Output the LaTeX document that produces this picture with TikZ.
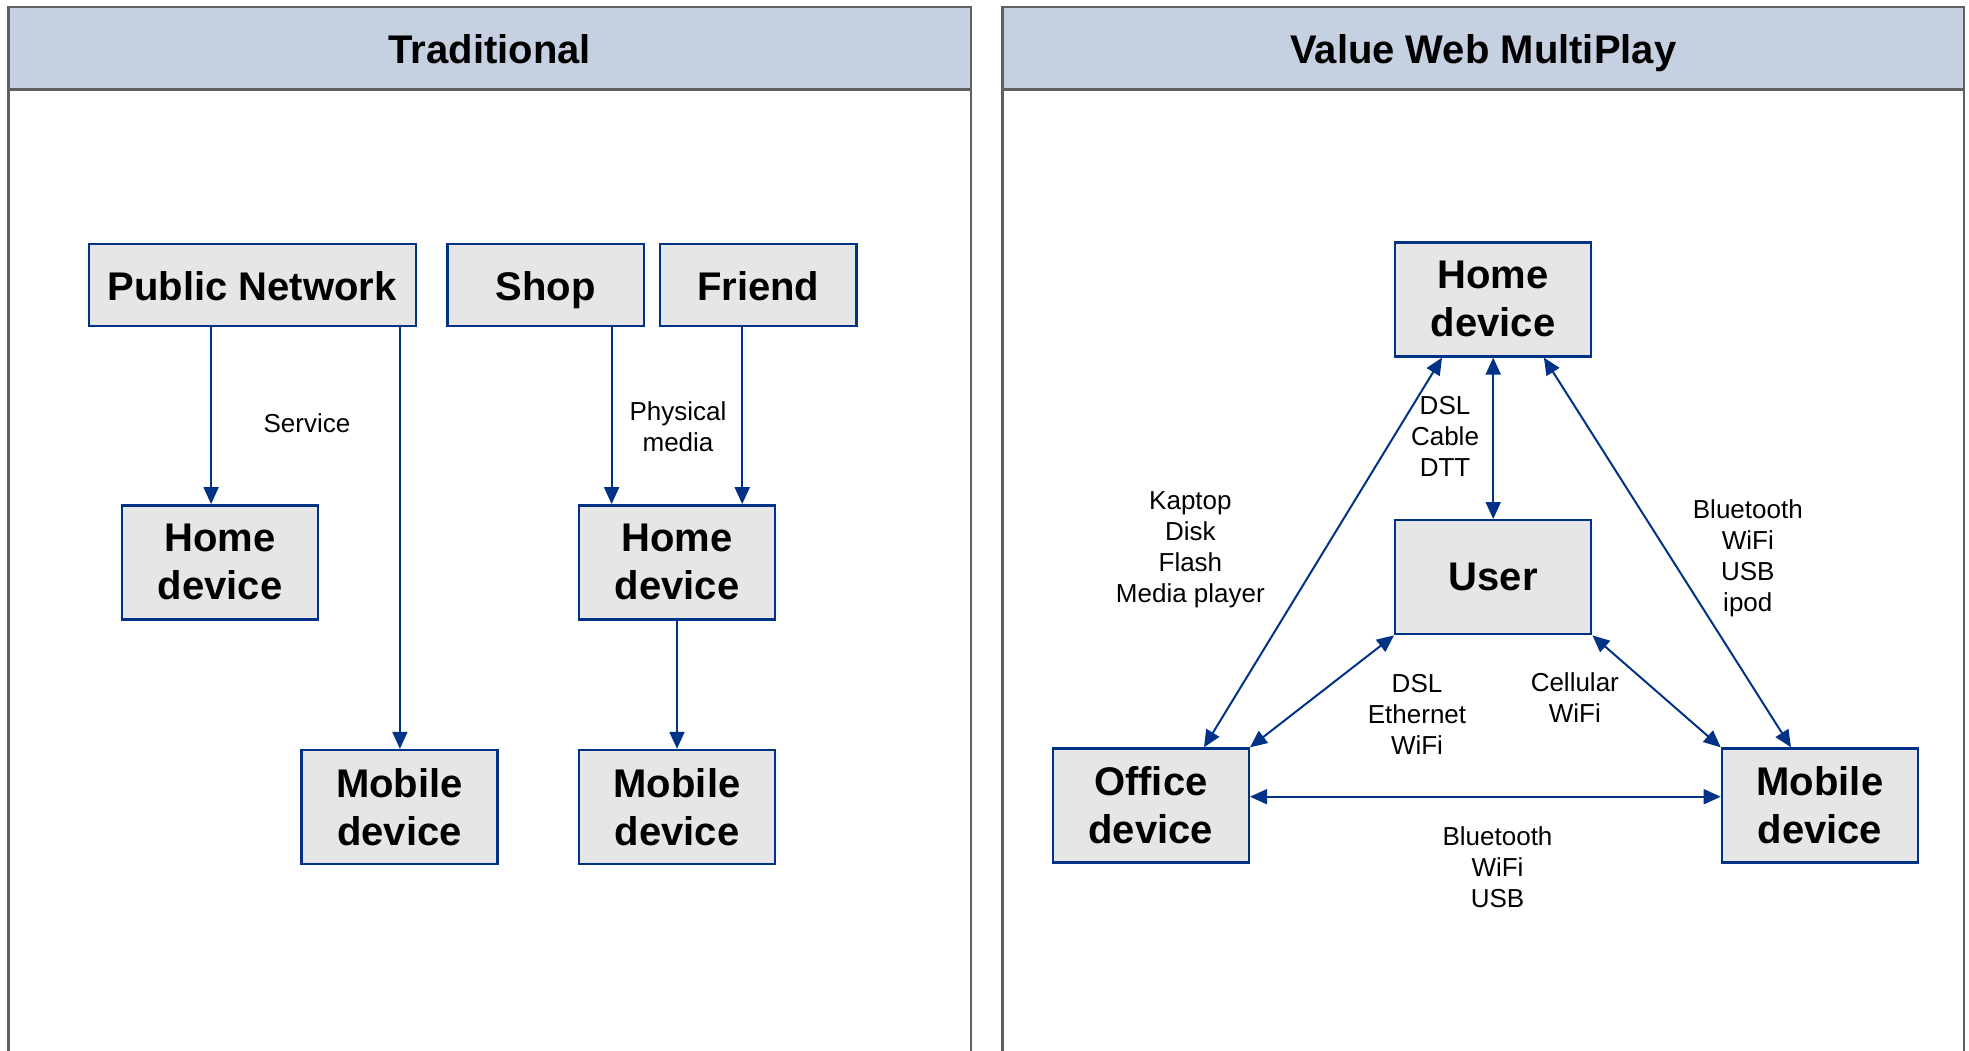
\documentclass[tikz,border=0pt]{standalone}
\usepackage{fontspec}
\setmainfont{Liberation Sans}
\usetikzlibrary{arrows.meta}
\definecolor{boxblue}{RGB}{0,51,136}
\definecolor{boxfill}{RGB}{230,230,230}
\definecolor{headfill}{RGB}{197,208,224}
\definecolor{panelgray}{RGB}{96,96,96}
\tikzset{
  devbox/.style={draw=boxblue, line width=1.2pt, fill=boxfill, align=center,
    inner sep=0pt, font=\fontsize{20}{24}\selectfont\bfseries},
  smallbox/.style={devbox, minimum width=98pt, minimum height=57pt},
  widebox/.style={devbox, minimum height=41pt, text height=19.6pt, text depth=4.2pt},
  lbl/.style={align=center, inner sep=0pt, font=\fontsize{13}{15.5}\selectfont},
  title/.style={inner sep=0pt, text height=19.6pt, text depth=4.2pt,
    font=\fontsize{20}{24}\selectfont\bfseries},
  arr/.style={draw=boxblue, line width=1pt, -{Triangle[length=8.5pt,width=7.5pt]}},
  biarr/.style={draw=boxblue, line width=1pt, {Triangle[length=8.5pt,width=7.5pt]}-{Triangle[length=8.5pt,width=7.5pt]}},
  panel/.style={draw=panelgray, line width=1.2pt},
}
\begin{document}
\begin{tikzpicture}[x=0.5pt, y=-0.5pt]
\useasboundingbox (0,0) rectangle (1969,1050);

% panels with their header bands
\begin{scope}
\clip (0,0) rectangle (1969,1050);
\draw[panel, fill=white] (8.3,6.7) rectangle (971,1070);
\draw[panel, fill=headfill] (8.3,6.7) rectangle (971,89.3);
\draw[panel, fill=white] (1002.5,6.7) rectangle (1964,1070);
\draw[panel, fill=headfill] (1002.5,6.7) rectangle (1964,89.3);
\end{scope}
\node[title] (t1) at (489.7,48) {Traditional};
\node[title] (t2) at (1483.3,48) {Value Web MultiPlay};

% traditional distribution
\node[widebox, minimum width=163.5pt] (pn) at (252.2,284.9) {Public Network};
\node[widebox, minimum width=98.2pt] (shop) at (545.5,284.9) {Shop};
\node[widebox, minimum width=98.2pt] (friend) at (758.3,284.9) {Friend};
\node[smallbox] (homeL) at (220,562.3) {Home\\device};
\node[smallbox] (homeR) at (677,562.3) {Home\\device};
\node[smallbox] (mobL) at (399.5,807) {Mobile\\device};
\node[smallbox] (mobR) at (677,807) {Mobile\\device};

\draw[arr] (pn.south -| 211.1,0) -- (homeL.north -| 211.1,0);
\draw[arr] (pn.south -| 399.9,0) -- (mobL.north -| 399.9,0);
\draw[arr] (shop.south -| 611.6,0) -- (homeR.north -| 611.6,0);
\draw[arr] (friend.south -| 742.2,0) -- (homeR.north -| 742.2,0);
\draw[arr] (homeR.south) -- (mobR.north);

\node[lbl] (service) at (307,423) {Service};
\node[lbl] (physical) at (678,427) {Physical\\media};

% multiplay network
\node[smallbox] (home) at (1493.2,299.4) {Home\\device};
\node[smallbox] (user) at (1493.2,577.2) {User};
\node[smallbox] (office) at (1150.8,805.5) {Office\\device};
\node[smallbox] (mobile) at (1819.9,805.5) {Mobile\\device};

\draw[biarr] (home.south) -- (user.north);
\draw[biarr] (home.south -| 1442,0) -- (office.north -| 1204,0);
\draw[biarr] (home.south -| 1543.9,0) -- (mobile.north -| 1791,0);
\draw[biarr] (user.south west) -- (office.north east);
\draw[biarr] (user.south east) -- (mobile.north west);
\draw[biarr] (office.east |- 0,796.7) -- (mobile.west |- 0,796.7);

\node[lbl] (lblA) at (1445,436) {DSL\\Cable\\DTT};
\node[lbl] (lblB) at (1190.4,550) {Kaptop\\Disk\\Flash\\Media player};
\node[lbl] (lblC) at (1747.8,558) {Bluetooth\\WiFi\\USB\\ipod};
\node[lbl] (lblD) at (1417,714) {DSL\\Ethernet\\WiFi};
\node[lbl] (lblE) at (1574.8,698) {Cellular\\WiFi};
\node[lbl] (lblF) at (1497.5,867.5) {Bluetooth\\WiFi\\USB};
\end{tikzpicture}
\end{document}
